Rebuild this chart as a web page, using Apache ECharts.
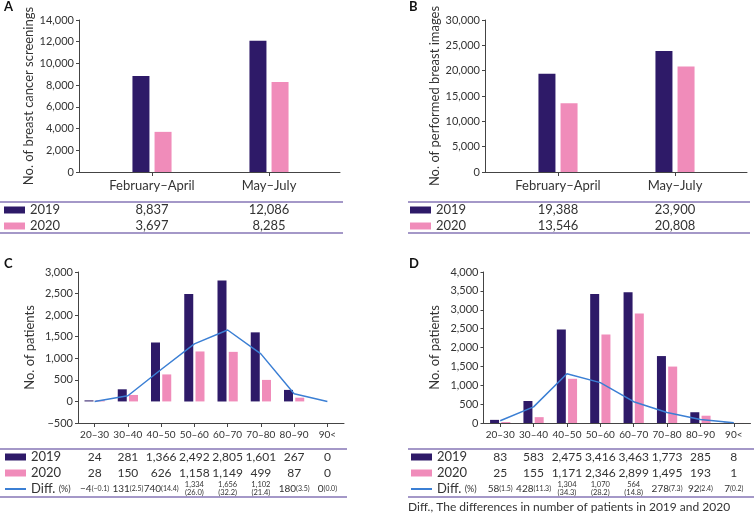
<!DOCTYPE html>
<html><head><meta charset="utf-8">
<script src="https://cdn.jsdelivr.net/npm/echarts@6/dist/echarts.min.js"></script>
<style>html,body{margin:0;padding:0;background:#fff}#c{width:754px;height:517px}</style>
</head><body><div id="c"></div>
<script>
// ---------- data ----------
const periods = ['February–April', 'May–July'];
const screenings2019 = [8837, 12086];
const screenings2020 = [3697, 8285];
const images2019 = [19388, 23900];
const images2020 = [13546, 20808];

const ageGroups = ['20–30', '30–40', '40–50', '50–60', '60–70', '70–80', '80–90', '90<'];
const patientsC2019 = [24, 281, 1366, 2492, 2805, 1601, 267, 0];
const patientsC2020 = [28, 150, 626, 1158, 1149, 499, 87, 0];
const diffC = [-4, 131, 740, 1334, 1656, 1102, 180, 0];
const diffPctC = [-0.1, 2.5, 14.4, 26.0, 32.2, 21.4, 3.5, 0.0];
const patientsD2019 = [83, 583, 2475, 3416, 3463, 1773, 285, 8];
const patientsD2020 = [25, 155, 1171, 2346, 2899, 1495, 193, 1];
const diffD = [58, 428, 1304, 1070, 564, 278, 92, 7];
const diffPctD = [1.5, 11.3, 34.3, 28.2, 14.8, 7.3, 2.4, 0.2];

const yScaleA = [0, 14000, 2000];
const yScaleB = [0, 30000, 5000];
const yScaleC = [-500, 3000, 500];
const yScaleD = [0, 4000, 500];

// ---------- style ----------
const FONT = 'Lato, "Noto Sans", sans-serif';
const TXT = '#333333';
const AXIS = '#444444';
const C19 = '#2e1a68';
const C20 = '#f08cba';
const CLINE = '#3b7fd4';
const RULE = '#8676b6';
const stackedC = [3, 4, 5];
const stackedD = [2, 3, 4];

const fmt = v => v.toLocaleString('en-US').replace('-', '−');
const fmtPct = v => '(' + v.toFixed(1).replace('-', '−') + ')';

function frameX(grid, cats) {
  return { type: 'category', gridIndex: grid, data: cats, position: 'bottom',
    axisLine: { onZero: false, lineStyle: { color: AXIS, width: 1 } },
    axisTick: { show: false }, axisLabel: { show: false }, splitLine: { show: false } };
}
function mainX(grid, cats, size, showLine) {
  return { type: 'category', gridIndex: grid, data: cats, position: 'bottom',
    axisLine: { show: showLine, onZero: false, lineStyle: { color: AXIS, width: 1 } },
    axisTick: { show: true, alignWithLabel: true, length: 4, lineStyle: { color: AXIS } },
    axisLabel: { interval: 0, margin: 7, fontSize: size, color: TXT, fontFamily: FONT },
    splitLine: { show: false } };
}
function rowX(grid, cats, offset, formatter, size, rich) {
  return { type: 'category', gridIndex: grid, data: cats, position: 'bottom', offset: offset,
    axisLine: { show: false, onZero: false }, axisTick: { show: false }, splitLine: { show: false },
    axisLabel: { interval: 0, margin: 0, verticalAlign: 'middle', fontSize: size, color: TXT,
      fontFamily: FONT, formatter: formatter, rich: rich, hideOverlap: false } };
}
function valY(grid, sc, name, gap, show) {
  return { type: 'value', gridIndex: grid, min: sc[0], max: sc[1], interval: sc[2], show: show,
    name: name, nameLocation: 'middle', nameGap: gap, nameRotate: 90,
    nameTextStyle: { fontSize: 13, color: TXT, fontFamily: FONT },
    axisLine: { show: true, lineStyle: { color: AXIS, width: 1 } },
    axisTick: { show: true, length: 3, lineStyle: { color: AXIS } },
    axisLabel: { fontSize: 11, color: TXT, fontFamily: FONT, margin: 5, formatter: fmt },
    splitLine: { show: false } };
}
const diffRich = {
  n: { fontSize: 10, color: TXT, fontFamily: FONT },
  p: { fontSize: 7, color: TXT, fontFamily: FONT },
  s: { fontSize: 7.5, color: TXT, fontFamily: FONT, lineHeight: 8, align: 'center' }
};
function diffFormatter(diff, pct, stacked) {
  return (val, idx) => stacked.indexOf(idx) >= 0
    ? '{s|' + fmt(diff[idx]) + '}\n{s|' + fmtPct(pct[idx]) + '}'
    : '{n|' + fmt(diff[idx]) + '}{p|' + fmtPct(pct[idx]) + '}';
}
const valFormatter = arr => (val, idx) => fmt(arr[idx]);

function bar(name, color, xi, yi, data, w, gap) {
  return { type: 'bar', name: name, xAxisIndex: xi, yAxisIndex: yi, data: data,
    barWidth: w, barGap: gap, itemStyle: { color: color }, silent: true };
}
function legend(left, top, withLine) {
  const d = [{ name: '2019', icon: 'rect' }, { name: '2020', icon: 'rect' }];
  if (withLine) d.push({ name: 'Diff. (%)', itemStyle: { opacity: 0 } });
  return { left: left, top: top, orient: 'vertical', itemGap: 0, itemWidth: 21, itemHeight: 7,
    itemTextGap: 7, padding: 0, selectedMode: false, data: d,
    formatter: n => n === 'Diff. (%)' ? '{a|Diff.} {b|(%)}' : n,
    textStyle: { fontSize: 13, lineHeight: 16, color: TXT, fontFamily: FONT,
      rich: { a: { fontSize: 13, lineHeight: 16, color: TXT, fontFamily: FONT },
              b: { fontSize: 9, lineHeight: 16, color: TXT, fontFamily: FONT } } } };
}
function rule(x1, x2, y) {
  return { type: 'line', shape: { x1: x1, y1: y, x2: x2, y2: y }, style: { stroke: RULE, lineWidth: 1.5 } };
}
function letter(t, x, y) {
  return { type: 'text', left: x, top: y, style: { text: t, fontSize: 13, fontWeight: 'bold', fill: '#111', fontFamily: FONT } };
}

const option = {
  animation: false,
  backgroundColor: '#fff',
  grid: [
    { left: 79, top: 20, width: 261, height: 152 },      // 0 A frame
    { left: 93.5, top: 20, width: 234, height: 152 },    // 1 A bars
    { left: 485, top: 20, width: 262, height: 152 },     // 2 B frame
    { left: 499.5, top: 20, width: 234, height: 152 },   // 3 B bars
    { left: 78, top: 272, width: 266, height: 151 },     // 4 C
    { left: 483.5, top: 272, width: 267, height: 151 }   // 5 D
  ],
  xAxis: [
    frameX(0, periods),
    mainX(1, periods, 13, false),
    rowX(1, periods, 38, valFormatter(screenings2019), 13),
    rowX(1, periods, 54, valFormatter(screenings2020), 13),
    frameX(2, periods),
    mainX(3, periods, 13, false),
    rowX(3, periods, 38, valFormatter(images2019), 13),
    rowX(3, periods, 54, valFormatter(images2020), 13),
    mainX(4, ageGroups, 10, true),
    rowX(4, ageGroups, 34, valFormatter(patientsC2019), 12),
    rowX(4, ageGroups, 50, valFormatter(patientsC2020), 12),
    rowX(4, ageGroups, 66, diffFormatter(diffC, diffPctC, stackedC), 10, diffRich),
    mainX(5, ageGroups, 10, true),
    rowX(5, ageGroups, 34, valFormatter(patientsD2019), 12),
    rowX(5, ageGroups, 50, valFormatter(patientsD2020), 12),
    rowX(5, ageGroups, 66, diffFormatter(diffD, diffPctD, stackedD), 10, diffRich)
  ],
  yAxis: [
    valY(0, yScaleA, 'No. of breast cancer screenings', 44, true),
    valY(1, yScaleA, '', 0, false),
    valY(2, yScaleB, 'No. of performed breast images', 43, true),
    valY(3, yScaleB, '', 0, false),
    valY(4, yScaleC, 'No. of patients', 42, true),
    valY(5, yScaleD, 'No. of patients', 42, true)
  ],
  legend: [legend(4, 202, false), legend(410, 202, false), legend(4, 449, true), legend(410, 449, true)],
  series: [
    bar('2019', C19, 1, 1, screenings2019, 17, '30%'),
    bar('2020', C20, 1, 1, screenings2020, 17, '30%'),
    bar('2019', C19, 5, 3, images2019, 17, '30%'),
    bar('2020', C20, 5, 3, images2020, 17, '30%'),
    bar('2019', C19, 8, 4, patientsC2019, 9, '25%'),
    bar('2020', C20, 8, 4, patientsC2020, 9, '25%'),
    { type: 'line', name: 'Diff. (%)', xAxisIndex: 8, yAxisIndex: 4, data: diffC, symbol: 'none',
      lineStyle: { color: CLINE, width: 1.5 }, itemStyle: { color: CLINE }, z: 5, silent: true },
    bar('2019', C19, 12, 5, patientsD2019, 9, '25%'),
    bar('2020', C20, 12, 5, patientsD2020, 9, '25%'),
    { type: 'line', name: 'Diff. (%)', xAxisIndex: 12, yAxisIndex: 5, data: diffD, symbol: 'none',
      lineStyle: { color: CLINE, width: 1.5 }, itemStyle: { color: CLINE }, z: 5, silent: true }
  ],
  graphic: [
    letter('A', 4, 0), letter('B', 409, 0), letter('C', 4, 257), letter('D', 409, 257),
    rule(0, 343, 202), rule(0, 343, 233),
    rule(408, 750, 202), rule(408, 750, 233),
    rule(0, 347, 449), rule(0, 347, 497),
    rule(408, 754, 449), rule(408, 754, 497),
    { type: 'text', left: 408, top: 501, style: { text: 'Diff., The differences in number of patients in 2019 and 2020',
      fontSize: 12, fill: TXT, fontFamily: FONT } }
  ]
};
const chart = echarts.init(document.getElementById('c'), null, { renderer: 'canvas' });
chart.setOption(option);
</script></body></html>
